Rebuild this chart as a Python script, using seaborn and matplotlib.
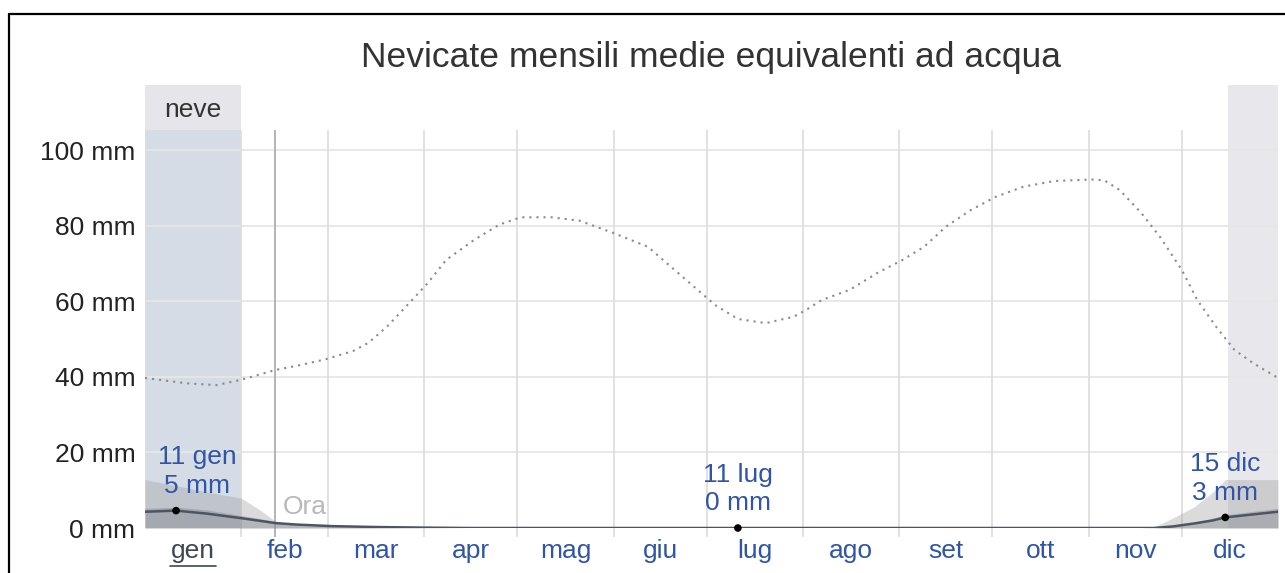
import numpy as np
import pandas as pd
import matplotlib.pyplot as plt
from matplotlib.lines import Line2D
import seaborn as sns

# Month names and calendar
months = ['gen', 'feb', 'mar', 'apr', 'mag', 'giu', 'lug', 'ago', 'set', 'ott', 'nov', 'dic']
days_in_month = [31, 28, 31, 30, 31, 30, 31, 31, 30, 31, 30, 31]

# Total monthly precipitation (dotted line): day of year -> mm
total_day = [0, 13, 23, 31, 42, 50, 58, 67, 72, 78, 85, 91, 97, 106, 114, 121, 131, 140,
             151, 162, 170, 179, 184, 191, 200, 209, 213, 218, 227, 236, 244, 251, 258,
             266, 274, 283, 293, 305, 309, 314, 321, 327, 334, 339, 345, 351, 357, 365]
total_mm = [39.7, 38.3, 37.8, 39.2, 41.8, 43.1, 44.6, 46.8, 49.0, 53.3, 59.4, 64.7, 70.9,
            76.2, 80.2, 82.2, 82.2, 81.3, 78.0, 74.4, 68.7, 62.3, 58.8, 55.3, 54.2, 55.9,
            57.7, 60.3, 63.0, 67.5, 70.9, 74.4, 79.7, 84.1, 87.6, 90.3, 91.8, 92.2, 92.0,
            89.4, 83.3, 77.0, 68.3, 60.3, 53.3, 47.1, 43.6, 39.7]

# Snow water equivalent: mean line and percentile bands
snow_day = [0, 10, 20, 31, 37, 42, 49, 60, 75, 90, 105, 320, 325, 331, 338, 344, 348, 357, 365]
snow_mean = [4.3, 4.6, 3.8, 2.6, 1.9, 1.3, 0.9, 0.5, 0.25, 0.1, 0.0, 0.0, 0.0, 0.4, 1.2,
             2.0, 2.8, 3.6, 4.3]
snow_p75 = [5.2, 5.5, 4.8, 3.3, 2.5, 1.7, 1.1, 0.6, 0.3, 0.1, 0.0, 0.0, 0.0, 0.5, 1.5,
            2.6, 3.5, 4.4, 5.2]
snow_p90 = [12.8, 11.2, 9.5, 7.9, 4.8, 1.8, 0.6, 0.3, 0.1, 0.0, 0.0, 0.0, 0.2, 2.6, 5.6,
            9.5, 12.8, 12.8, 12.8]

# Snowy season (day of year) and "now" marker
season_end = 31      # 31 gen
season_start = 349   # 15 dic
today = 42           # 11 feb

# Highlighted values
ann_day = [10, 191, 348]
ann_val = [4.6, 0.0, 2.8]
ann_text = ['11 gen\n5 mm', '11 lug\n0 mm', '15 dic\n3 mm']

yticks = [0, 20, 40, 60, 80, 100]

sns.set_theme(style="white")
plt.rcParams['font.family'] = ['Liberation Sans', 'DejaVu Sans']

month_edges = np.concatenate([[0], np.cumsum(days_in_month)])
month_mid = (month_edges[:-1] + month_edges[1:]) / 2

df_total = pd.DataFrame({'day': total_day, 'mm': total_mm})
df_snow = pd.DataFrame({'day': snow_day, 'mean': snow_mean, 'p75': snow_p75, 'p90': snow_p90})
df_ann = pd.DataFrame({'day': ann_day, 'mm': ann_val, 'text': ann_text})

W, H = 1285, 573
fig = plt.figure(figsize=(W / 100, H / 100), dpi=100)
ax = fig.add_axes([145 / W, 1 - 528 / H, (1278 - 145) / W, (528 - 85) / H])
ymax = (528 - 85) / 3.78
grid_top = (528 - 130) / 3.78
ax.set_xlim(0, 365)
ax.set_ylim(0, ymax)

# snowy season shading
ax.fill_between([0, season_end], 0, grid_top, color='#d5dce6', lw=0, zorder=0)
ax.fill_between([0, season_end], grid_top, ymax, color='#e6e6ea', lw=0, zorder=0)
ax.fill_between([season_start, 365], 0, ymax, color='#e8e8ec', lw=0, zorder=0)
ax.text(season_end / 2, 110.5, 'neve', ha='center', va='center', fontsize=19, color='#333333')

# grid
ax.hlines(yticks[1:], 0, 365, color='#e6e6e6', lw=1.3, zorder=1)
ax.vlines(month_edges[1:-1], -2.5, grid_top, color='#dcdcdc', lw=1.2, zorder=1, clip_on=False)
ax.vlines([today], -2.5, grid_top, color='#a8a8a8', lw=1.2, zorder=1, clip_on=False)
ax.text(today + 2.5, 5.6, 'Ora', ha='left', va='center', fontsize=19, color='#b8b8b8', zorder=2)

# percentile bands
ax.fill_between(df_snow['day'], 0, df_snow['p90'], color='#9a9a9a', alpha=0.35, lw=0, zorder=2)
ax.fill_between(df_snow['day'], 0, df_snow['p75'], color='#7a7f88', alpha=0.4, lw=0, zorder=2)

# total precipitation (dotted)
sns.lineplot(data=df_total, x='day', y='mm', ax=ax, color='#8a8a8a', lw=1.5,
             dashes=False, zorder=3)
ax.lines[-1].set_dashes([1, 2.4])

# mean snow line
sns.lineplot(data=df_snow, x='day', y='mean', ax=ax, color='#4d5562', lw=1.8, zorder=4)
sns.scatterplot(data=df_ann, x='day', y='mm', ax=ax, color='black', s=30, zorder=5,
                clip_on=False, edgecolor='none')

offsets = [(15, 9), (0, 9), (0, 9)]
for (_, r), off in zip(df_ann.iterrows(), offsets):
    ax.annotate(r['text'], (r['day'], r['mm']), xytext=off, textcoords='offset points',
                ha='center', va='bottom', fontsize=19, color='#2f55a4', linespacing=1.25,
                zorder=6)

# axes
ax.set_yticks(yticks)
ax.set_yticklabels([f'{v} mm' for v in yticks])
ax.set_xticks(month_mid)
ax.set_xticklabels(months)
ax.tick_params(axis='y', length=0, pad=7, labelsize=19, labelcolor='#222222')
ax.tick_params(axis='x', length=0, pad=8, labelsize=19, labelcolor='#2f55a4')
ax.get_xticklabels()[0].set_color('#3c4756')
ax.set_xlabel('')
ax.set_ylabel('')
for s in ax.spines.values():
    s.set_visible(False)

# underline for the first month
ax.plot([month_mid[0] - 7.5, month_mid[0] + 7.5], [-10.0, -10.0], color='#3c4756', lw=1.2,
        clip_on=False, zorder=6)

fig.text(711 / W, 1 - 58 / H, 'Nevicate mensili medie equivalenti ad acqua', ha='center',
         va='center', fontsize=25.5, color='#333333')

# frame
fig.add_artist(Line2D([9 / W, 9 / W], [0, 1 - 14 / H], color='black', lw=1.6))
fig.add_artist(Line2D([9 / W, 1], [1 - 14 / H, 1 - 14 / H], color='black', lw=1.6))

fig.savefig('out.png', dpi=100, facecolor='white')
